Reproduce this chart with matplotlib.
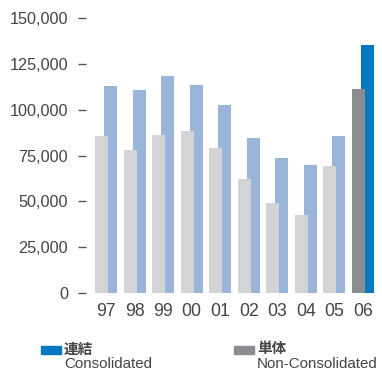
import matplotlib
matplotlib.use("Agg")
import matplotlib.pyplot as plt
import numpy as np
from matplotlib.patches import Rectangle

## Data
years = ['97', '98', '99', '00', '01', '02', '03', '04', '05', '06']
non_consolidated = [85700, 78100, 86300, 88500, 79200, 62200, 49100, 42500, 69300, 111400]
consolidated = [113100, 110900, 118500, 113600, 102700, 84600, 73700, 69900, 85700, 135500]
yticks = [0, 25000, 50000, 75000, 100000, 125000, 150000]

## Style
LIGHT_GRAY = '#d3d4d6'
LIGHT_BLUE = '#9bb5da'
DARK_GRAY = '#8b8c8f'
BLUE = '#0079be'
TEXT = '#444444'
FONT = ['Liberation Sans', 'Noto Sans CJK JP']

plt.rcParams['font.family'] = FONT

fig = plt.figure(figsize=(3.82, 3.71), dpi=100)
ax = fig.add_axes([0.2251, 0.2110, 0.7644, 0.7394])

x = np.arange(len(years))
offset = 0.158
width = 0.455
n = len(years)
blue_cols = [LIGHT_BLUE] * (n - 1) + [BLUE]
gray_cols = [LIGHT_GRAY] * (n - 1) + [DARK_GRAY]

# consolidated behind, non-consolidated in front
ax.bar(x + offset, consolidated, width, color=blue_cols, zorder=1)
ax.bar(x - offset, non_consolidated, width, color=gray_cols, zorder=2)

ax.set_xlim(-0.70, 9.525)
ax.set_ylim(0, 150000)
ax.set_xticks(x)
ax.set_xticklabels(years)
ax.set_yticks(yticks)
ax.set_yticklabels([f'{v:,}' for v in yticks])

for s in ax.spines.values():
    s.set_visible(False)

ax.tick_params(axis='y', length=5.8, width=1.0, color='#555555', pad=7,
               labelsize=11.7, labelcolor=TEXT)
ax.tick_params(axis='x', length=0, pad=7.5, labelsize=12.7, labelcolor=TEXT)

## Legend
def legend_item(x0, color, jp, en):
    fig.patches.append(Rectangle((x0 / 382, (371 - 353.5) / 371), 20 / 382, 7.8 / 371,
                                 transform=fig.transFigure, color=color))
    fig.text((x0 + 23) / 382, (371 - 349.5) / 371, jp, fontsize=10.5,
             fontweight='bold', color=TEXT, va='center', ha='left')
    fig.text((x0 + 23) / 382, (371 - 364) / 371, en, fontsize=10.9,
             color=TEXT, va='center', ha='left')

legend_item(41, BLUE, '連結', 'Consolidated')
legend_item(234, DARK_GRAY, '単体', 'Non-Consolidated')

fig.savefig('out.png', dpi=100)
